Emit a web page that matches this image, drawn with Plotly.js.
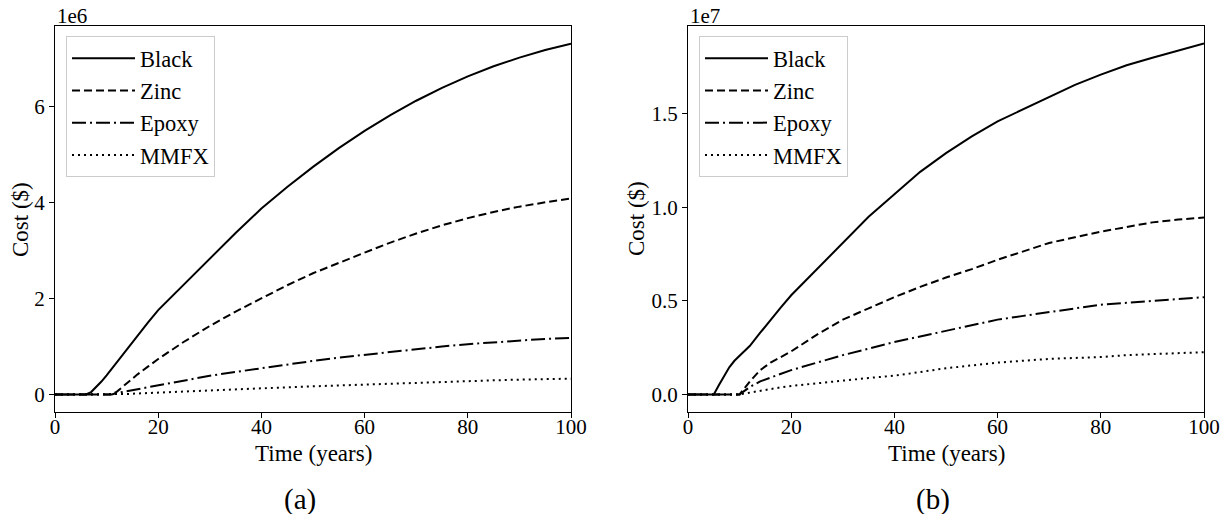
<!DOCTYPE html>
<html>
<head>
<meta charset="utf-8">
<script src="https://cdn.plot.ly/plotly-3.0.1.min.js"></script>
<style>
  html, body { margin: 0; padding: 0; background: #ffffff; }
  #chart { width: 1231px; height: 514px; }
</style>
</head>
<body>
<div id="chart"></div>
<script>
// Time axis (years)
const years = [0,4,5,6,7,8,9,10,11,12,14,16,18,20,25,30,35,40,45,50,55,60,65,70,75,80,85,90,95,100];

// Panel (a): cost in units of 1e6 $
const blackA = [0,0,0,0,0.05,0.15,0.27,0.4,0.54,0.68,0.96,1.24,1.5,1.76,2.3,2.84,3.37,3.88,4.33,4.75,5.14,5.5,5.83,6.13,6.4,6.64,6.85,7.03,7.19,7.32];
const zincA  = [0,0,0,0,0,0,0,0,0,0.06,0.25,0.42,0.58,0.74,1.1,1.43,1.73,2.01,2.28,2.53,2.75,2.96,3.17,3.36,3.53,3.68,3.81,3.92,4.01,4.09];
const epoxyA = [0,0,0,0,0,0,0,0,0,0.03,0.07,0.12,0.16,0.2,0.3,0.39,0.47,0.55,0.63,0.7,0.77,0.83,0.89,0.95,1.0,1.05,1.09,1.13,1.16,1.18];
const mmfxA  = [0,0,0,0,0,0,0,0,0,0,0.01,0.02,0.03,0.04,0.065,0.09,0.11,0.13,0.15,0.17,0.19,0.21,0.23,0.25,0.265,0.28,0.295,0.31,0.32,0.33];

// Panel (b): cost in units of 1e7 $
const blackB = [0,0,0,0.05,0.1,0.145,0.18,0.205,0.23,0.26,0.33,0.4,0.465,0.53,0.67,0.81,0.95,1.07,1.19,1.29,1.38,1.46,1.525,1.59,1.655,1.71,1.76,1.8,1.84,1.877];
const zincB  = [0,0,0,0,0,0,0,0,0.035,0.07,0.13,0.17,0.2,0.23,0.32,0.4,0.46,0.52,0.575,0.625,0.67,0.72,0.765,0.81,0.84,0.87,0.895,0.92,0.935,0.946];
const epoxyB = [0,0,0,0,0,0,0,0,0.02,0.04,0.07,0.09,0.11,0.13,0.17,0.21,0.245,0.28,0.31,0.34,0.37,0.4,0.42,0.44,0.46,0.48,0.49,0.5,0.51,0.52];
const mmfxB  = [0,0,0,0,0,0,0,0,0.005,0.01,0.02,0.03,0.038,0.045,0.06,0.075,0.088,0.1,0.12,0.14,0.155,0.17,0.18,0.19,0.195,0.2,0.21,0.215,0.22,0.226];

const seriesNames = ["Black", "Zinc", "Epoxy", "MMFX"];
const xTicks = [0, 20, 40, 60, 80, 100];
const yTicksA = [0, 2, 4, 6];
const yTicksB = [0, 0.5, 1.0, 1.5];
const xTitle = "Time (years)";
const yTitle = "Cost ($)";
const scaleA = "1e6", scaleB = "1e7";
const captions = ["(a)", "(b)"];

const FONT = "Liberation Serif, Times New Roman, serif";
const dashes = ["solid", "8px,4px", "14px,4px,2px,4px", "2px,4px"];

const panelA = [blackA, zincA, epoxyA, mmfxA];
const panelB = [blackB, zincB, epoxyB, mmfxB];

const traces = [];
panelA.forEach((ys, i) => {
  traces.push({
    x: years, y: ys, type: "scatter", mode: "lines",
    name: seriesNames[i], xaxis: "x", yaxis: "y",
    legend: "legend", legendgroup: "a" + i,
    line: { color: "#000000", width: 2, dash: dashes[i] },
    hoverinfo: "skip"
  });
});
panelB.forEach((ys, i) => {
  traces.push({
    x: years, y: ys, type: "scatter", mode: "lines",
    name: seriesNames[i], xaxis: "x2", yaxis: "y2",
    legend: "legend2", legendgroup: "b" + i,
    line: { color: "#000000", width: 2, dash: dashes[i] },
    hoverinfo: "skip"
  });
});

const W = 1231, H = 514;
const axCommon = {
  showgrid: false, zeroline: false, showline: true, mirror: true,
  linecolor: "#000000", linewidth: 1,
  ticks: "outside", ticklen: 5, tickwidth: 1, tickcolor: "#000000",
  tickfont: { family: FONT, size: 21, color: "#000000" },
  automargin: false
};

const xaxisBase = Object.assign({}, axCommon, {
  range: [0, 100], tickvals: xTicks, ticktext: xTicks.map(String),
  ticklabelstandoff: -9
});

function legendCfg(xpx) {
  return {
    x: xpx / W, y: 1 - 36 / H, xanchor: "left", yanchor: "top",
    bgcolor: "rgba(255,255,255,0.8)", bordercolor: "#cccccc", borderwidth: 1,
    font: { family: FONT, size: 22.5, color: "#000000" },
    itemwidth: 63, tracegroupgap: 7, traceorder: "normal"
  };
}

function txt(text, xpx, ypx, size, extra) {
  return Object.assign({
    text: text, xref: "paper", yref: "paper", x: xpx / W, y: 1 - ypx / H,
    xanchor: "center", yanchor: "middle", showarrow: false,
    font: { family: FONT, size: size, color: "#000000" }
  }, extra || {});
}

const layout = {
  width: W, height: H,
  paper_bgcolor: "#ffffff", plot_bgcolor: "#ffffff",
  margin: { l: 0, r: 0, t: 0, b: 0 },
  showlegend: true,
  font: { family: FONT, color: "#000000" },
  xaxis: Object.assign({}, xaxisBase, { domain: [55 / W, 571 / W], anchor: "y" }),
  xaxis2: Object.assign({}, xaxisBase, { domain: [688 / W, 1204 / W], anchor: "y2" }),
  yaxis: Object.assign({}, axCommon, {
    domain: [1 - 412 / H, 1 - 26 / H], anchor: "x",
    range: [-0.366, 7.69], tickvals: yTicksA, ticktext: yTicksA.map(String)
  }),
  yaxis2: Object.assign({}, axCommon, {
    domain: [1 - 412 / H, 1 - 26 / H], anchor: "x2",
    range: [-0.094, 1.97], tickvals: yTicksB, ticktext: yTicksB.map(v => v.toFixed(1))
  }),
  legend: legendCfg(66),
  legend2: legendCfg(699),
  annotations: [
    txt(scaleA, 55, 16, 21, { xanchor: "left" }),
    txt(scaleB, 688, 16, 21, { xanchor: "left" }),
    txt(xTitle, 313, 453, 23),
    txt(xTitle, 946, 453, 23),
    txt(yTitle, 20, 219, 23, { textangle: -90 }),
    txt(yTitle, 636, 219, 23, { textangle: -90 }),
    txt(captions[0], 300, 499, 29),
    txt(captions[1], 933, 499, 29)
  ]
};

Plotly.newPlot("chart", traces, layout, { displayModeBar: false, staticPlot: true });
</script>
</body>
</html>
